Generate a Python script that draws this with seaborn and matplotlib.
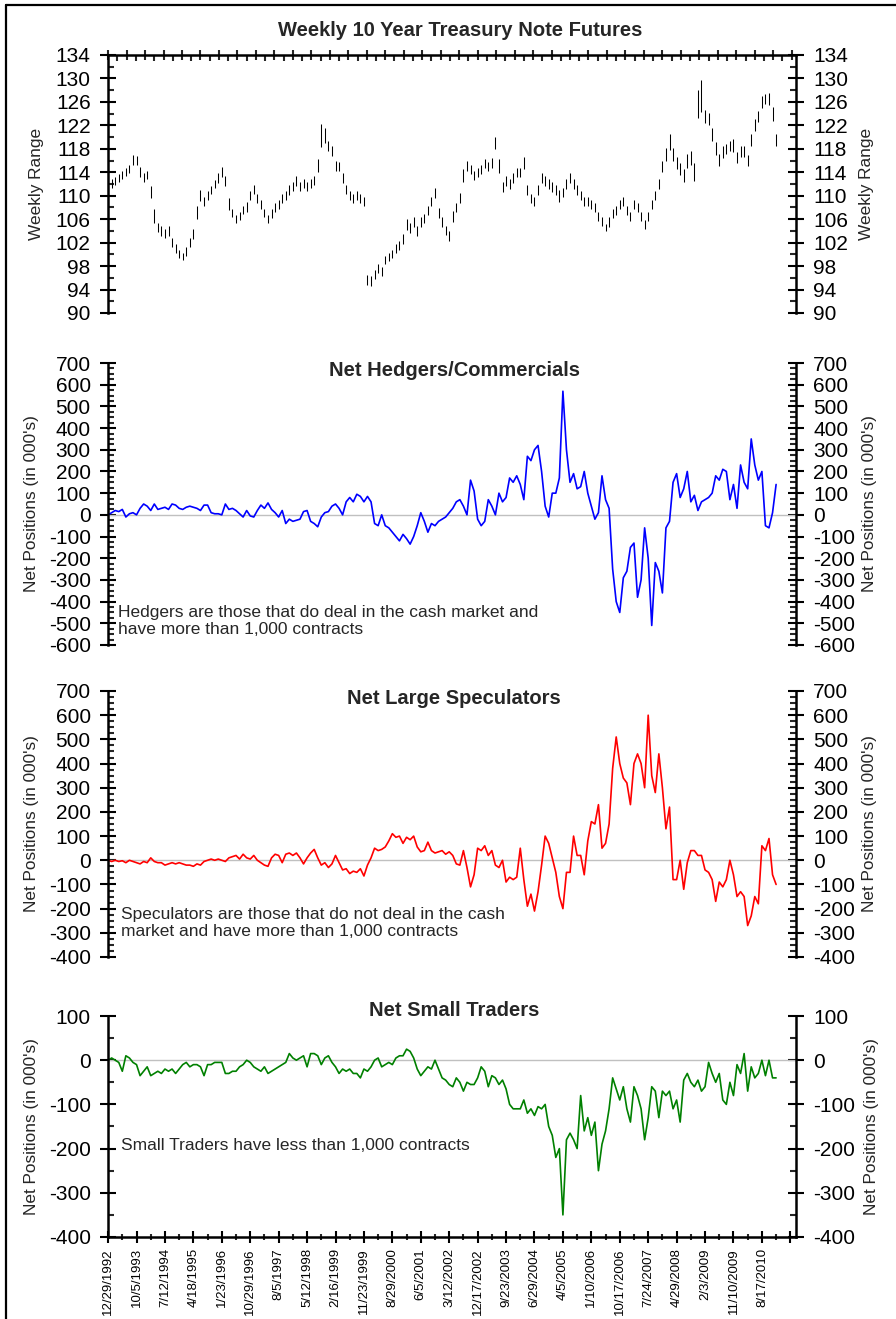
import pandas as pd
import matplotlib
matplotlib.use("Agg")
import matplotlib.pyplot as plt
import matplotlib.ticker as mticker
import matplotlib.dates as mdates
from matplotlib.lines import Line2D
import seaborn as sns

# weekly COT data, every 5th week starting 12/29/1992
start_date = "1992-12-29"

# 10 year note futures, weekly low / high
tn_low = [110.2, 111.3, 111.8, 112.4, 112.8, 113.3, 113.8, 115.2, 115.3, 113.2,
          112.3, 112.8, 109.6, 105.4, 103.8, 103.1, 102.8, 103.2, 101.3, 100.2,
          99.4, 99, 99.8, 101.2, 102.7, 106, 109.1, 108.3, 109.2, 110.3,
          111.3, 112.2, 113.2, 111.6, 107.6, 106.3, 105.4, 105.8, 106.8, 107.2,
          109.2, 110.3, 108.7, 107.8, 106.3, 105.4, 106.2, 107.3, 107.8, 108.8,
          109.3, 110.2, 110.8, 111.7, 110.8, 111.3, 110.8, 111.3, 111.8, 114,
          118.3, 119, 117.6, 116.7, 114.2, 114.2, 112.2, 110.3, 109.3, 108.8,
          109.3, 108.8, 108.3, 94.7, 94.6, 95.8, 96.8, 96.3, 98.3, 98.8,
          99.3, 100.3, 100.8, 101.7, 104.1, 103.7, 104.7, 103.2, 104.7, 105.3,
          106.7, 108.2, 109.6, 106.2, 104.7, 103.3, 102.2, 105.6, 107.2, 108.7,
          112.4, 114.2, 113.7, 112.7, 113.2, 113.7, 114.7, 114.2, 114.7, 117.9,
          113.8, 110.7, 111.7, 111.2, 112.2, 113.2, 113.2, 114.5, 110.2, 108.7,
          108.3, 110.2, 112.2, 111.7, 111.2, 110.7, 110.2, 109, 109.7, 111.2,
          112.2, 111.2, 110.2, 109.3, 108.3, 108.3, 107.7, 107.3, 105.7, 104.8,
          103.9, 104.7, 106.2, 106.7, 107.7, 108.3, 106.7, 105.7, 107.7, 107.3,
          105.7, 104.3, 105.7, 107.7, 109.2, 111.1, 114, 116, 117.8, 116,
          114.5, 113.5, 112.4, 114.8, 115.3, 112.5, 123.2, 124.3, 122.4, 122,
          119.4, 116.9, 115, 116.5, 117.1, 117.6, 117.4, 115.5, 116.6, 116.6,
          115.1, 118.5, 121, 122.6, 125, 125.6, 125.5, 122.8, 118.5]
tn_high = [111.8, 112.8, 113.2, 113.7, 114.3, 114.8, 115.3, 117, 116.8, 114.9,
           113.8, 114.3, 111.6, 107.8, 105.3, 104.9, 104.3, 104.8, 102.8, 101.7,
           100.7, 100.2, 101.3, 102.8, 104.4, 108.2, 111, 109.8, 110.8, 111.7,
           112.7, 113.8, 114.9, 113.4, 109.6, 107.8, 106.7, 107.3, 108.3, 108.9,
           110.8, 111.8, 110.3, 109.3, 107.8, 106.7, 107.8, 108.8, 109.3, 110.3,
           110.8, 111.8, 112.3, 113.4, 112.3, 112.8, 112.3, 112.8, 113.3, 116.2,
           122.2, 121.5, 119.4, 118.4, 115.9, 115.8, 113.8, 111.8, 110.8, 110.3,
           110.8, 110.3, 109.8, 96.4, 96.3, 97.3, 98.3, 97.8, 99.8, 100.3,
           100.8, 101.8, 102.3, 103.4, 106.1, 105.3, 106.3, 104.8, 106.3, 106.8,
           108.3, 109.8, 111.4, 107.9, 106.3, 104.8, 103.9, 107.4, 108.8, 110.4,
           114.6, 115.9, 115.3, 114.3, 114.8, 115.3, 116.3, 115.8, 116.4, 120.1,
           116.2, 112.4, 113.3, 112.8, 113.8, 114.8, 114.8, 116.6, 111.8, 110.3,
           109.8, 111.8, 113.8, 113.3, 112.8, 112.3, 111.8, 110.9, 111.3, 112.8,
           113.8, 112.8, 111.8, 110.8, 109.8, 109.7, 109.3, 108.8, 107.3, 106.3,
           105.2, 106.3, 107.8, 108.3, 109.3, 109.8, 108.3, 107.3, 109.3, 108.8,
           107.3, 105.8, 107.3, 109.3, 110.8, 112.9, 116, 118.2, 120.5, 118.2,
           116.6, 115.6, 114.6, 117.2, 117.7, 115.6, 128, 129.8, 124.7, 124.1,
           121.6, 119.1, 117.1, 118.5, 118.9, 119.4, 119.7, 117.5, 118.4, 118.5,
           116.9, 120.5, 123, 124.4, 127, 127.4, 127.6, 125.2, 120.6]

# net positions, in 000's of contracts
hedgers = [0, 10, 20, 15, 25, -10, 5, 10, 0, 30,
           50, 40, 20, 50, 25, 30, 35, 25, 50, 45,
           30, 25, 35, 40, 35, 30, 20, 45, 45, 10,
           5, 5, 0, 50, 25, 30, 20, 5, -10, 20,
           -5, -10, 20, 45, 30, 55, 25, 10, -10, 20,
           -40, -20, -30, -25, -20, 15, 20, -30, -40, -55,
           -10, 10, 15, 40, 50, 30, 0, 60, 80, 60,
           95, 85, 60, 85, 60, -40, -50, 0, -50, -60,
           -80, -100, -120, -90, -110, -135, -100, -50, 10, -30,
           -80, -40, -50, -30, -20, -10, 10, 30, 60, 70,
           40, 0, 160, 110, -20, -50, -30, 70, 40, 0,
           100, 60, 80, 170, 150, 180, 140, 70, 270, 250,
           300, 320, 200, 40, -10, 100, 100, 170, 570, 300,
           150, 190, 120, 130, 200, 100, 40, -20, 10, 180,
           70, 30, -250, -400, -450, -290, -260, -150, -130, -380,
           -300, -60, -200, -510, -220, -260, -360, -60, -30, 150,
           190, 80, 120, 200, 60, 90, 20, 60, 70, 80,
           100, 180, 160, 210, 200, 70, 140, 30, 230, 150,
           120, 350, 230, 160, 200, -50, -60, 10, 140]
large_specs = [0, -5, 0, -5, -2, -10, 0, -5, -10, -15,
               -5, -10, 10, -5, -10, -10, -20, -15, -10, -15,
               -10, -15, -20, -20, -25, -15, -20, -5, 0, 5,
               0, 5, 0, -5, 10, 15, 20, 5, 25, 10,
               5, 20, 0, -10, -20, -25, 10, 25, 20, -10,
               25, 30, 20, 30, 10, -15, 10, 30, 45, 10,
               -20, -10, -30, -15, 20, -10, -40, -35, -55, -45,
               -50, -35, -65, -20, 10, 50, 40, 45, 55, 80,
               110, 95, 100, 70, 95, 85, 100, 55, 35, 40,
               75, 40, 30, 35, 40, 25, 35, 20, -15, -20,
               40, -30, -110, -60, 50, 40, 60, 20, 40, -20,
               -30, 0, -90, -70, -80, -70, 50, -80, -190, -140,
               -210, -130, -20, 100, 70, 10, -50, -150, -200, -50,
               -50, 100, 20, 20, -60, 80, 160, 150, 230, 50,
               70, 150, 380, 510, 400, 340, 320, 230, 400, 440,
               400, 300, 600, 350, 280, 440, 300, 130, 220, -80,
               -80, 0, -120, -10, 40, 40, 20, 20, -40, -50,
               -80, -170, -90, -110, -80, 0, -60, -150, -130, -150,
               -270, -230, -150, -180, 60, 40, 90, -60, -100]
small_traders = [0, 5, 0, -5, -25, 10, 5, -5, -10, -35,
                 -25, -15, -35, -30, -25, -30, -20, -25, -20, -30,
                 -20, -10, -5, -15, -10, -10, -15, -35, -10, -10,
                 -5, -5, -5, -30, -30, -25, -25, -15, -10, 0,
                 -5, -15, -20, -25, -15, -30, -25, -20, -15, -10,
                 -5, 15, 5, 0, 5, 10, -15, 15, 15, 10,
                 -10, 5, 10, -5, -15, -30, -20, -25, -20, -30,
                 -30, -40, -20, -25, -15, 0, 5, -15, -10, -5,
                 -10, 5, 10, 10, 25, 20, 5, -20, -35, -25,
                 -15, -20, 0, -20, -40, -45, -55, -60, -40, -50,
                 -70, -50, -55, -55, -40, -15, -25, -60, -35, -40,
                 -55, -45, -65, -100, -110, -110, -110, -90, -120, -110,
                 -125, -105, -110, -100, -150, -170, -220, -200, -350, -180,
                 -165, -180, -200, -80, -160, -130, -170, -140, -250, -190,
                 -160, -110, -40, -65, -90, -60, -110, -140, -60, -80,
                 -110, -180, -130, -60, -70, -130, -70, -80, -70, -110,
                 -90, -140, -45, -30, -50, -60, -45, -70, -60, -5,
                 -30, -50, -30, -90, -100, -50, -80, -10, -30, 15,
                 -70, -15, -40, -30, 0, -35, 0, -40, -40]

tick_labels = ["12/29/1992", "10/5/1993", "7/12/1994", "4/18/1995", "1/23/1996",
               "10/29/1996", "8/5/1997", "5/12/1998", "2/16/1999", "11/23/1999",
               "8/29/2000", "6/5/2001", "3/12/2002", "12/17/2002", "9/23/2003",
               "6/29/2004", "4/5/2005", "1/10/2006", "10/17/2006", "7/24/2007",
               "4/29/2008", "2/3/2009", "11/10/2009", "8/17/2010"]

dates = pd.date_range(start_date, periods=len(hedgers), freq="35D")
d0 = pd.Timestamp(start_date)

sns.set_theme(style="white")
plt.rcParams['font.family'] = ['Liberation Sans', 'DejaVu Sans']
plt.rcParams['axes.unicode_minus'] = False

W, H = 896, 1319
fig = plt.figure(figsize=(W / 100, H / 100), dpi=100)


def add_axes(top, bottom):
    return fig.add_axes([108 / W, 1 - bottom / H, 688 / W, (bottom - top) / H])


ax1 = add_axes(55, 313)
ax2 = add_axes(363, 645)
ax3 = add_axes(691, 957)
ax4 = add_axes(1016, 1237)

x_lo = mdates.date2num(d0 - pd.Timedelta(days=1))
x_hi = mdates.date2num(d0 + pd.Timedelta(weeks=968))

major_x = list(pd.to_datetime(tick_labels, format="%m/%d/%Y"))
major_x.append(major_x[-1] + pd.Timedelta(days=280))
minor_x = [d + pd.Timedelta(days=140) for d in major_x[:-1]]


def style_y(ax, lo, hi, major, minor, offset=0):
    ax.set_ylim(lo, hi)
    ax.set_xlim(x_lo, x_hi)
    ax.yaxis.set_major_locator(mticker.MultipleLocator(major, offset=offset))
    ax.yaxis.set_minor_locator(mticker.MultipleLocator(minor))
    ax.tick_params(axis='y', which='major', direction='inout', length=11, width=1.5,
                   left=True, right=True, labelleft=True, labelright=True,
                   labelsize=15, pad=7, colors='black')
    ax.tick_params(axis='y', which='minor', direction='in', length=4.5, width=1.5,
                   left=True, right=True)
    for side in ['top', 'bottom']:
        ax.spines[side].set_visible(False)
    for side in ['left', 'right']:
        ax.spines[side].set_linewidth(1.8)
        ax.spines[side].set_color('black')
    ax.set_xlabel("")
    ax.set_ylabel("")
    ax.grid(False)


# Weekly 10 Year Treasury Note Futures
ax1.vlines(mdates.date2num(dates), tn_low, tn_high, color='black', linewidth=0.75)
style_y(ax1, 90, 134, 4, 2, offset=2)
ax1.spines['top'].set_visible(True)
ax1.spines['top'].set_linewidth(1.8)
ax1.spines['top'].set_color('black')
top_major = pd.date_range(d0, d0 + pd.Timedelta(weeks=968), freq="182D")
top_minor = pd.date_range(d0 + pd.Timedelta(days=91), d0 + pd.Timedelta(weeks=968), freq="182D")
ax1.set_xticks(mdates.date2num(top_major))
ax1.set_xticks(mdates.date2num(top_minor), minor=True)
ax1.tick_params(axis='x', which='major', direction='inout', length=7, width=1.5,
                top=True, bottom=False, labeltop=False, labelbottom=False)
ax1.tick_params(axis='x', which='minor', direction='in', length=4, width=1.5,
                top=True, bottom=False)

# Net Hedgers/Commercials
ax2.axhline(0, color='#c0c0c0', linewidth=1, zorder=1)
sns.lineplot(x=mdates.date2num(dates), y=hedgers, ax=ax2, color='#0000ff', linewidth=1.2)
style_y(ax2, -600, 700, 100, 25)
ax2.set_xticks([])
ax2.tick_params(axis='x', bottom=False, labelbottom=False)

# Net Large Speculators
ax3.axhline(0, color='#c0c0c0', linewidth=1, zorder=1)
sns.lineplot(x=mdates.date2num(dates), y=large_specs, ax=ax3, color='#ff0000', linewidth=1.2)
style_y(ax3, -400, 700, 100, 25)
ax3.set_xticks([])
ax3.tick_params(axis='x', bottom=False, labelbottom=False)

# Net Small Traders
ax4.axhline(0, color='#c0c0c0', linewidth=1, zorder=1)
sns.lineplot(x=mdates.date2num(dates), y=small_traders, ax=ax4, color='#008000', linewidth=1.2)
style_y(ax4, -400, 100, 100, 50)
ax4.spines['bottom'].set_visible(True)
ax4.spines['bottom'].set_linewidth(1.8)
ax4.spines['bottom'].set_color('black')
ax4.set_xticks(mdates.date2num(major_x))
ax4.set_xticklabels(tick_labels + [""], rotation=90)
ax4.set_xticks(mdates.date2num(minor_x), minor=True)
ax4.tick_params(axis='x', which='major', direction='inout', length=8, width=1.5,
                bottom=True, labelsize=9.5, pad=4, colors='black')
ax4.tick_params(axis='x', which='minor', direction='inout', length=4, width=1.5, bottom=True)

# titles
fig.text(460 / W, 1 - 31 / H, "Weekly 10 Year Treasury Note Futures", ha='center', va='center',
         fontsize=14.5, fontweight='bold')
fig.text(454 / W, 1 - 370 / H, "Net Hedgers/Commercials", ha='center', va='center',
         fontsize=14.5, fontweight='bold')
fig.text(454 / W, 1 - 698 / H, "Net Large Speculators", ha='center', va='center',
         fontsize=14.5, fontweight='bold')
fig.text(454 / W, 1 - 1011 / H, "Net Small Traders", ha='center', va='center',
         fontsize=14.5, fontweight='bold')

# axis labels on both sides
ylabels = [(ax1, "Weekly Range", 37, 866), (ax2, "Net Positions (in 000's)", 32, 869),
           (ax3, "Net Positions (in 000's)", 32, 869), (ax4, "Net Positions (in 000's)", 32, 871)]
for ax, lab, xl, xr in ylabels:
    pos = ax.get_position()
    yc = (pos.y0 + pos.y1) / 2
    fig.text(xl / W, yc, lab, rotation=90, ha='center', va='center', fontsize=12.4)
    fig.text(xr / W, yc, lab, rotation=90, ha='center', va='center', fontsize=12.4)

# notes
fig.text(118 / W, 1 - 621 / H, "Hedgers are those that do deal in the cash market and\nhave more than 1,000 contracts",
         ha='left', va='center', fontsize=12.5, linespacing=1.2)
fig.text(121 / W, 1 - 923 / H, "Speculators are those that do not deal in the cash\nmarket and have more than 1,000 contracts",
         ha='left', va='center', fontsize=12.5, linespacing=1.2)
fig.text(121 / W, 1 - 1146 / H, "Small Traders have less than 1,000 contracts",
         ha='left', va='center', fontsize=12.5)

# page frame
fig.add_artist(Line2D([6 / W, 6 / W], [0, 1 - 5 / H], transform=fig.transFigure, color='black', linewidth=1.6))
fig.add_artist(Line2D([6 / W, 1], [1 - 5 / H, 1 - 5 / H], transform=fig.transFigure, color='black', linewidth=1.6))

fig.savefig("out.png", dpi=100)
